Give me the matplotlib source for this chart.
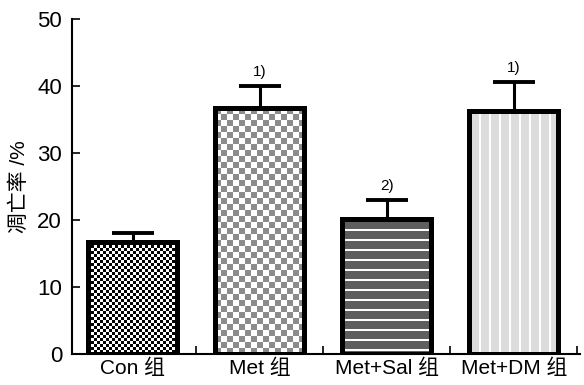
import numpy as np
import matplotlib
matplotlib.use("Agg")
import matplotlib.pyplot as plt

plt.rcParams["font.family"] = ["Liberation Sans", "Noto Sans CJK SC", "DejaVu Sans"]

# 数据
groups = ["Con 组", "Met 组", "Met+Sal 组", "Met+DM 组"]
rates = [16.7, 36.7, 20.1, 36.3]
sd = [1.3, 3.3, 2.9, 4.3]
marks = ["", "1)", "2)", "1)"]

# 填充样式: (类型, 颜色1, 颜色2, 像素周期)
fills = [
    ("checker", "#000000", "#ffffff", 3),
    ("checker", "#8c8c8c", "#ffffff", 6),
    ("hstripe", "#5e5e5e", "#ffffff", 10),
    ("vstripe", "#dcdcdc", "#ffffff", 10),
]


def make_pattern(kind, c1, c2, period, nrows, ncols):
    c1 = np.array(matplotlib.colors.to_rgb(c1))
    c2 = np.array(matplotlib.colors.to_rgb(c2))
    r = np.arange(nrows)[:, None]
    c = np.arange(ncols)[None, :]
    if kind == "checker":
        mask = ((r // period) + (c // period)) % 2 == 0
    elif kind == "hstripe":
        mask = (r % period) >= 2
    else:
        mask = (c % period) >= 2
    img = np.where(mask[..., None], c1, c2)
    return img


fig = plt.figure(figsize=(5.84, 3.85), dpi=100)
ax = fig.add_axes([0.123, 0.0805, 0.870, 0.870])

x = np.arange(len(groups))
width = 0.70
ax.set_xlim(-0.48, 3.52)
ax.set_ylim(0, 50)

bars = ax.bar(x, rates, width=width, facecolor="none", edgecolor="black",
              linewidth=3.6, zorder=3)

# 图案填充，裁剪到柱形内
fig.canvas.draw()
for bar, (kind, c1, c2, period) in zip(bars, fills):
    x0, y0 = bar.get_x(), bar.get_y()
    x1, y1 = x0 + bar.get_width(), y0 + bar.get_height()
    p0 = ax.transData.transform((x0, y0))
    p1 = ax.transData.transform((x1, y1))
    ncols = int(round(p1[0] - p0[0]))
    nrows = int(round(p1[1] - p0[1]))
    img = make_pattern(kind, c1, c2, period, nrows, ncols)
    im = ax.imshow(img, extent=(x0, x1, y0, y1), aspect="auto",
                   interpolation="nearest", origin="upper", zorder=2)
    im.set_clip_path(bar)

ax.set_aspect("auto")
ax.set_xlim(-0.48, 3.52)
ax.set_ylim(0, 50)

ax.errorbar(x, rates, yerr=[np.zeros(len(sd)), sd], fmt="none",
            ecolor="black", elinewidth=2.2, capsize=15, capthick=2.8, zorder=4)

for xi, r, s, m in zip(x, rates, sd, marks):
    if m:
        ax.text(xi, r + s + 1.0, m, ha="center", va="bottom", fontsize=11)

ax.spines["top"].set_visible(False)
ax.spines["right"].set_visible(False)
ax.spines["left"].set_linewidth(1.5)
ax.spines["bottom"].set_linewidth(1.5)

ax.set_yticks([0, 10, 20, 30, 40, 50])
ax.tick_params(axis="y", direction="in", length=6, width=1.2, labelsize=16, pad=7)

ax.set_xticks(x + 0.5, minor=False)
ax.set_xticklabels([])
ax.tick_params(axis="x", which="major", direction="in", length=6, width=1.2)
ax.set_xticks(x, minor=True)
ax.set_xticklabels(groups, minor=True, fontsize=15)
ax.tick_params(axis="x", which="minor", length=0, pad=3)

ax.set_ylabel("凋亡率 /%", fontsize=15, labelpad=6)

fig.savefig("out.png", dpi=100)
